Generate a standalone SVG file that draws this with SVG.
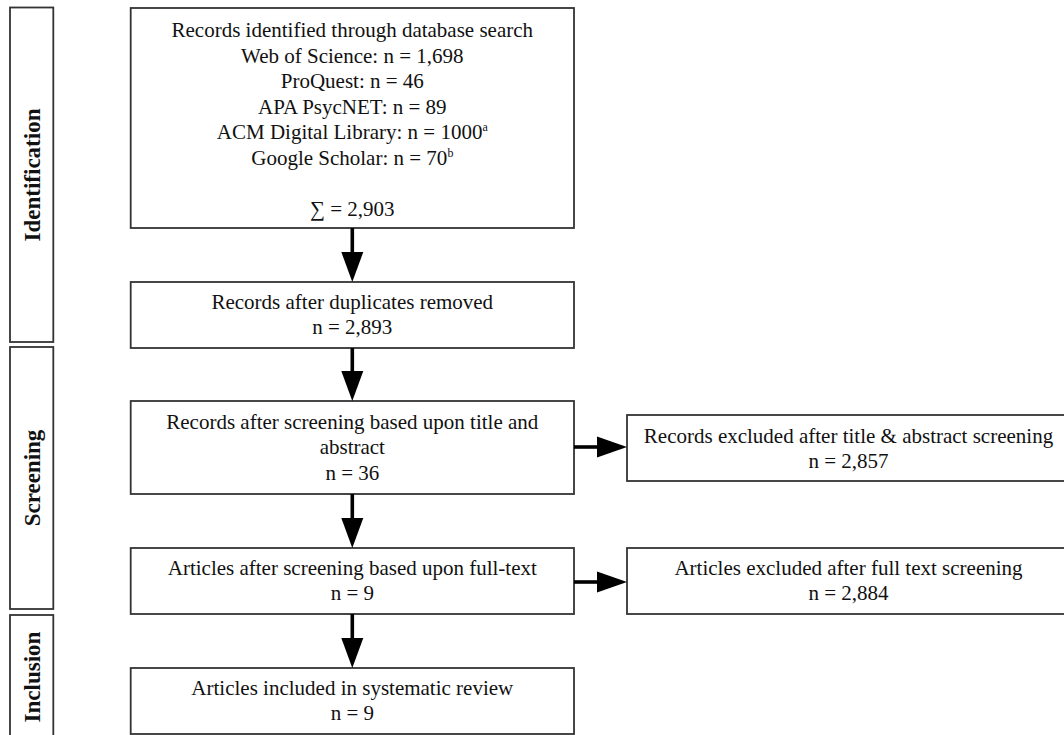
<svg xmlns="http://www.w3.org/2000/svg" width="1064" height="735" viewBox="0 0 1064 735">
<style>
.box{fill:#fff;stroke:#333;stroke-width:1.8}
.t{font-family:"Liberation Serif","Times New Roman",serif;font-size:21px;fill:#111;text-anchor:middle}
.lab{font-family:"Liberation Serif","Times New Roman",serif;font-size:23px;font-weight:bold;fill:#111;text-anchor:middle}
.sup{font-size:12px}
.shaft{stroke:#000;stroke-width:3.6;fill:none}
.head{fill:#000}
</style>
<rect width="1064" height="735" fill="#fff"/>
<g id="phase-identification">
<rect class="box" x="10" y="7.5" width="43.3" height="334.5"/>
<text class="lab" transform="translate(40,175) rotate(-90)">Identification</text>
</g>
<g id="phase-screening">
<rect class="box" x="10" y="347" width="43.3" height="262"/>
<text class="lab" transform="translate(40,478) rotate(-90)">Screening</text>
</g>
<g id="phase-inclusion">
<rect class="box" x="10" y="615" width="43.3" height="125"/>
<text class="lab" transform="translate(40,677) rotate(-90)">Inclusion</text>
</g>
<g id="identified">
<rect class="box" x="130.7" y="8" width="443.3" height="220"/>
<text class="t" x="352.3" y="37">Records identified through database search</text>
<text class="t" x="352.3" y="62.5">Web of Science: n = 1,698</text>
<text class="t" x="352.3" y="88">ProQuest: n = 46</text>
<text class="t" x="352.3" y="113.5">APA PsycNET: n = 89</text>
<text class="t" x="352.3" y="139">ACM Digital Library: n = 1000<tspan class="sup" dy="-8">a</tspan></text>
<text class="t" x="352.3" y="164.5">Google Scholar: n = 70<tspan class="sup" dy="-8">b</tspan></text>
<text class="t" x="352.3" y="215.5">∑ = 2,903</text>
</g>
<g id="deduplicated">
<rect class="box" x="130.7" y="282" width="443.3" height="66"/>
<text class="t" x="352.3" y="309">Records after duplicates removed</text>
<text class="t" x="352.3" y="334">n = 2,893</text>
</g>
<g id="screened">
<rect class="box" x="130.7" y="401" width="443.3" height="93"/>
<text class="t" x="352.3" y="429">Records after screening based upon title and</text>
<text class="t" x="352.3" y="454">abstract</text>
<text class="t" x="352.3" y="479.5">n = 36</text>
</g>
<g id="excluded-title">
<rect class="box" x="627" y="415" width="443" height="66"/>
<text class="t" x="848.5" y="443">Records excluded after title &amp; abstract screening</text>
<text class="t" x="848.5" y="468">n = 2,857</text>
</g>
<g id="fulltext">
<rect class="box" x="130.7" y="548" width="443.3" height="66"/>
<text class="t" x="352.3" y="575">Articles after screening based upon full-text</text>
<text class="t" x="352.3" y="600">n = 9</text>
</g>
<g id="excluded-fulltext">
<rect class="box" x="627" y="548" width="443" height="66"/>
<text class="t" x="848.5" y="575">Articles excluded after full text screening</text>
<text class="t" x="848.5" y="600">n = 2,884</text>
</g>
<g id="included">
<rect class="box" x="130.7" y="668" width="443.3" height="66"/>
<text class="t" x="352.3" y="695">Articles included in systematic review</text>
<text class="t" x="352.3" y="720">n = 9</text>
</g>
<g id="connectors">
<line class="shaft" x1="352.3" y1="228" x2="352.3" y2="254"/>
<polygon class="head" points="341.3,252 363.3,252 352.3,282"/>
<line class="shaft" x1="352.3" y1="348" x2="352.3" y2="373"/>
<polygon class="head" points="341.3,371 363.3,371 352.3,401"/>
<line class="shaft" x1="352.3" y1="494" x2="352.3" y2="520"/>
<polygon class="head" points="341.3,518 363.3,518 352.3,548"/>
<line class="shaft" x1="352.3" y1="614" x2="352.3" y2="640"/>
<polygon class="head" points="341.3,638 363.3,638 352.3,668"/>
<line class="shaft" x1="574" y1="447" x2="599" y2="447"/>
<polygon class="head" points="597,436.5 597,457.5 627,447"/>
<line class="shaft" x1="574" y1="582" x2="599" y2="582"/>
<polygon class="head" points="597,571.5 597,592.5 627,582"/>
</g>
</svg>
